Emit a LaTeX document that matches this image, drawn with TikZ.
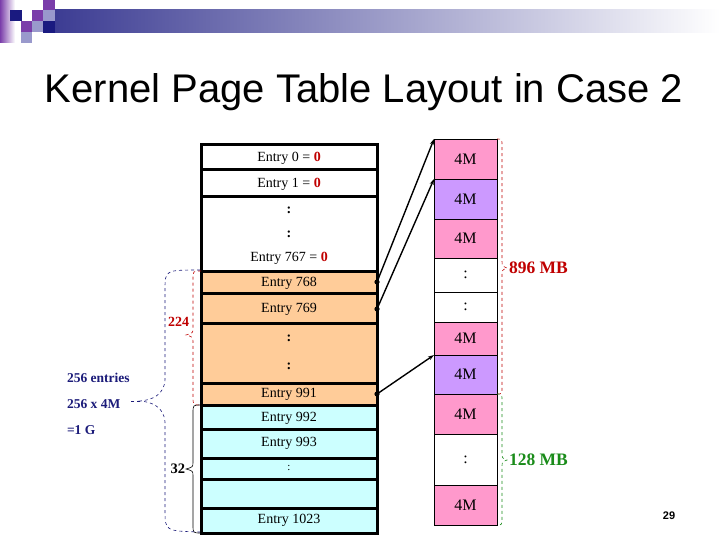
\documentclass[tikz,border=0pt]{standalone}
\usepackage{fontspec}
\setmainfont{Liberation Serif}
\newfontfamily\arialfont{Liberation Sans}
\usetikzlibrary{arrows.meta}
\definecolor{corange}{HTML}{FFCC99}
\definecolor{ccyan}{HTML}{CCFFFF}
\definecolor{cpink}{HTML}{FF99CC}
\definecolor{cpurple}{HTML}{CC99FF}
\definecolor{cred}{HTML}{C00000}
\definecolor{cgreen}{HTML}{1A8C1A}
\definecolor{cnavy}{HTML}{1C1C7A}
\definecolor{lpurple}{HTML}{7A3DAA}
\definecolor{llav}{HTML}{9999CC}
\definecolor{lnavy}{HTML}{1A1A80}
\begin{document}
\begin{tikzpicture}[x=1pt,y=-1pt,
  every node/.style={inner sep=0pt, outer sep=0pt},
  lrule/.style={draw=black, line width=3pt},
  rbox/.style={draw=black, line width=0.8pt, minimum width=63pt, anchor=north west, font=\fontsize{16}{16}\selectfont},
  etext/.style={font=\fontsize{14}{14}\selectfont},
  dtext/.style={font=\bfseries\fontsize{14}{14}\selectfont},
  conn/.style={line width=1.4pt, -{Stealth[length=6pt,width=4pt]}},
  rdot/.style={fill=black},
  lbl/.style={font=\bfseries\fontsize{17.5}{17.5}\selectfont},
  navytext/.style={font=\bfseries\fontsize{13.5}{14}\selectfont, text=cnavy, anchor=west}
]
\useasboundingbox (0,0) rectangle (720,540);
\fill[white] (0,0) rectangle (720,540);

% banner
\shade[left color=lnavy!85!white, right color=white] (55,10) rectangle (720,33);
\shade[left color=lpurple, right color=white] (0,0) rectangle (15,43);
\fill[lnavy] (10,10) rectangle (22,21);
\fill[lpurple] (43,0) rectangle (55,10);
\fill[lpurple] (32,10) rectangle (43,21);
\fill[llav] (43,10) rectangle (55,21);
\fill[lpurple] (21,21) rectangle (32,32);
\fill[llav] (32,21) rectangle (43,32);
\fill[lnavy] (43,21) rectangle (55,33);
\fill[llav] (21,32) rectangle (32,43);

% title
\node[font=\arialfont\fontsize{40}{40}\selectfont] (title) at (364,92) {Kernel Page Table Layout in Case 2};

% left table
\fill[white] (201,145) rectangle (377,271);
\fill[corange] (201,271) rectangle (377,405);
\fill[ccyan] (201,405) rectangle (377,533);
\foreach \yy in {170,197,271,293,323,383,405,429,458,479,508}
  \draw[lrule] (201,\yy) -- (377,\yy);
\draw[lrule] (201,145) rectangle (377,533);

\node[etext] (e0) at (289,158) {Entry 0 = {\bfseries\color{cred}0}};
\node[etext] (e1) at (289,184) {Entry 1 = {\bfseries\color{cred}0}};
\node[dtext] (ed1) at (289,210) {:};
\node[dtext] (ed2) at (289,234) {:};
\node[etext] (e767) at (289,258) {Entry 767 = {\bfseries\color{cred}0}};
\node[etext] (e768) at (289,283) {Entry 768};
\node[etext] (e769) at (289,309) {Entry 769};
\node[dtext] (ed3) at (289,338) {:};
\node[dtext] (ed4) at (289,366) {:};
\node[etext] (e991) at (289,394) {Entry 991};
\node[etext] (e992) at (289,418) {Entry 992};
\node[etext] (e993) at (289,443) {Entry 993};
\node[font=\fontsize{11}{11}\selectfont] (ed5) at (289,468) {:};
\node[etext] (e1023) at (289,520) {Entry 1023};

% right column
\node[rbox, fill=cpink, minimum height=40pt] (m1) at (434,139) {4M};
\node[rbox, fill=cpurple, minimum height=40pt] (m2) at (434,179) {4M};
\node[rbox, fill=cpink, minimum height=39pt] (m3) at (434,219) {4M};
\node[rbox, fill=white, minimum height=34pt] (d1) at (434,258) {:};
\node[rbox, fill=white, minimum height=30pt] (d2) at (434,292) {:};
\node[rbox, fill=cpink, minimum height=33pt] (m4) at (434,322) {4M};
\node[rbox, fill=cpurple, minimum height=39pt] (m5) at (434,355) {4M};
\node[rbox, fill=cpink, minimum height=40pt] (m6) at (434,394) {4M};
\node[rbox, fill=white, minimum height=51pt] (d3) at (434,434) {:};
\node[rbox, fill=cpink, minimum height=40pt] (m7) at (434,485) {4M};

% connectors
\coordinate (p768) at (377,282);
\coordinate (p769) at (377,309);
\coordinate (p991) at (377,394);
\draw[conn] (p768) -- (m1.north west);
\draw[conn] (p769) -- (m2.north west);
\draw[conn] (p991) -- (m5.north west);
\fill[rdot] (p768) circle (2.6pt);
\fill[rdot] (p769) circle (2.6pt);
\fill[rdot] (p991) circle (2.6pt);

% right braces
\draw[cred, dashed, line width=0.6pt] (497,139) .. controls (502,139) .. (502,146) -- (502,260)
  .. controls (502,266) .. (507,268) .. controls (502,270) .. (502,276) -- (502,387) .. controls (502,394) .. (497,394);
\node[lbl, text=cred, anchor=west] (t896) at (509,268) {896 MB};
\draw[cgreen, dashed, line width=0.6pt] (497,394) .. controls (502,394) .. (502,401) -- (502,453)
  .. controls (502,458) .. (507,460) .. controls (502,462) .. (502,467) -- (502,518) .. controls (502,525) .. (497,525);
\node[lbl, text=cgreen, anchor=west] (t128) at (509,460) {128 MB};

% left braces
\draw[cred, dashed, line width=0.6pt] (201,271) .. controls (193,271) .. (193,279) -- (193,328)
  .. controls (193,333) .. (186,335) .. controls (193,337) .. (193,342) -- (193,397) .. controls (193,405) .. (201,405);
\node[font=\bfseries\fontsize{14}{14}\selectfont, text=cred, anchor=east] (t224) at (189,322) {224};
\draw[black, line width=0.6pt] (201,405) .. controls (193,405) .. (193,413) -- (193,462)
  .. controls (193,467) .. (186,469) .. controls (193,471) .. (193,476) -- (193,525) .. controls (193,533) .. (201,533);
\node[font=\bfseries\fontsize{14.5}{14.5}\selectfont, anchor=east] (t32) at (185,469) {32};

\draw[cnavy, dashed, line width=0.6pt] (200,270) .. controls (165,270) .. (165,290) -- (165,380)
  .. controls (164,395) and (152,400) .. (140,401) .. controls (152,402) and (164,407) .. (165,422)
  -- (165,510) .. controls (165,531) .. (200,532);
\draw[cnavy, dashed, line width=0.6pt] (140,401) -- (128,401);
\node[navytext] (n1) at (67,378) {256 entries};
\node[navytext] (n2) at (67,404) {256 x 4M};
\node[navytext] (n3) at (67,430) {=1 G};

% page number
\node[font=\arialfont\bfseries\fontsize{11}{11}\selectfont] (pg) at (669,516) {29};
\end{tikzpicture}
\end{document}
